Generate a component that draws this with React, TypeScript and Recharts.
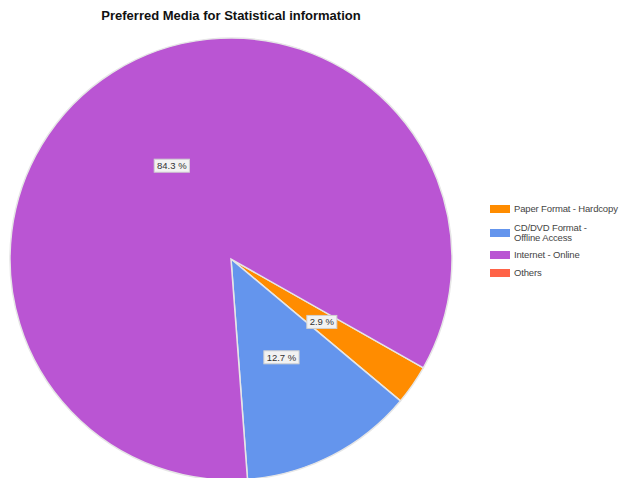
import { Cell, Legend, Pie, PieChart } from 'recharts'

const categories = ['Paper Format - Hardcopy', 'CD/DVD Format - Offline Access', 'Internet - Online', 'Others']
const shares = [2.9, 12.7, 84.3, 0]
const colors = ['#ff8c00', '#6495ed', '#ba55d3', '#ff6347']
const legendLines = [['Paper Format - Hardcopy'], ['CD/DVD Format -', 'Offline Access'], ['Internet - Online'], ['Others']]

const data = categories.map((name, i) => ({ name, value: shares[i] }))

const RADIAN = Math.PI / 180

function SliceLabel(props: any) {
  const { cx, cy, midAngle, outerRadius, value } = props
  if (value < 1) return null
  const r = outerRadius * 0.5
  const x = cx + r * Math.cos(-midAngle * RADIAN)
  const y = cy + r * Math.sin(-midAngle * RADIAN)
  const text = `${value.toFixed(1)} %`
  const w = text.length * 5.2 + 4
  return (
    <g>
      <rect x={x - w / 2} y={y - 6.5} width={w} height={13} fill="#f2f2f2" stroke="#d0d0d0" strokeWidth={1} />
      <text x={x} y={y + 3.5} textAnchor="middle" fontSize={9.5} fontFamily="Arial, 'Liberation Sans', sans-serif" fill="#333">
        {text}
      </text>
    </g>
  )
}

const itemGaps = [9, 7, 8, 0]

function LegendBox() {
  return (
    <div style={{ fontFamily: "Arial, 'Liberation Sans', sans-serif", fontSize: 9.5, letterSpacing: -0.15, color: '#444', lineHeight: '10px', whiteSpace: 'nowrap' }}>
      {legendLines.map((lines, i) => (
        <div key={i} style={{ display: 'flex', alignItems: 'center', marginBottom: itemGaps[i] }}>
          <div style={{ width: 20, height: 8, background: colors[i], marginRight: 4, flexShrink: 0 }} />
          <div>
            {lines.map((l) => (
              <div key={l}>{l}</div>
            ))}
          </div>
        </div>
      ))}
    </div>
  )
}

export default function App() {
  return (
    <div style={{ position: 'absolute', left: 0, top: 0, width: 619, height: 478, background: '#fff', overflow: 'hidden' }}>
      <div
        style={{
          position: 'absolute',
          left: 0,
          width: 462,
          top: 8,
          textAlign: 'center',
          fontFamily: "Arial, 'Liberation Sans', sans-serif",
          fontWeight: 'bold',
          fontSize: 13,
          color: '#111',
        }}
      >
        Preferred Media for Statistical information
      </div>
      <PieChart width={619} height={478} margin={{ top: 0, right: 0, bottom: 0, left: 0 }}>
        <Pie
          data={data}
          dataKey="value"
          nameKey="name"
          cx={231}
          cy={259}
          outerRadius={221}
          startAngle={-29.5}
          endAngle={-389.5}
          stroke="#e6e6e6"
          strokeWidth={1.5}
          label={SliceLabel}
          labelLine={false}
          isAnimationActive={false}
        >
          {data.map((d, i) => (
            <Cell key={d.name} fill={colors[i]} />
          ))}
        </Pie>
        <Legend
          layout="vertical"
          align="right"
          verticalAlign="top"
          wrapperStyle={{ left: 490, top: 204, width: 129 }}
          content={() => <LegendBox />}
        />
      </PieChart>
    </div>
  )
}
